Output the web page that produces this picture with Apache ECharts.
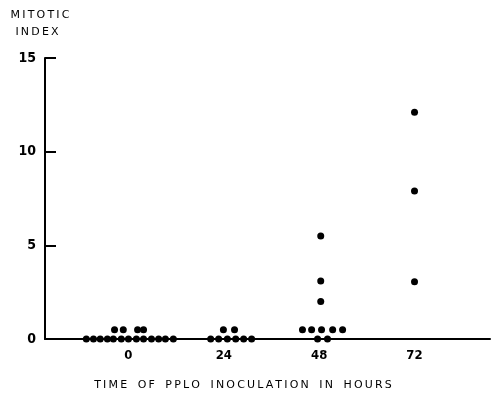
<!DOCTYPE html>
<html>
<head>
<meta charset="utf-8">
<script src="https://cdn.jsdelivr.net/npm/echarts@6/dist/echarts.min.js"></script>
<style>
  html, body { margin: 0; padding: 0; background: #fff; }
  #chart { width: 499px; height: 393px; }
</style>
</head>
<body>
<div id="chart"></div>
<script>
// hours after inoculation (dots spread sideways around each group) and mitotic index
const hourTicks = [0, 24, 48, 72];
const yTicks = [0, 5, 10, 15];

const group0 = [
    [-10.6, 0], [-8.8, 0], [-7.1, 0], [-5.3, 0], [-3.8, 0], [-1.8, 0], [0, 0],
    [2.0, 0], [3.8, 0], [5.8, 0], [7.6, 0], [9.3, 0], [11.3, 0],
    [-3.5, 0.5], [-1.3, 0.5], [2.3, 0.5], [3.8, 0.5]
];
const group24 = [
    [20.7, 0], [22.7, 0], [24.9, 0], [27.0, 0], [29.0, 0], [31.0, 0],
    [23.9, 0.5], [26.7, 0.5]
];
const group48 = [
    [47.6, 0], [50.1, 0],
    [43.8, 0.5], [46.1, 0.5], [48.6, 0.5], [51.4, 0.5], [53.9, 0.5],
    [48.4, 2.0], [48.4, 3.1], [48.4, 5.5]
];
const group72 = [[72, 3.05], [72, 7.9], [72, 12.1]];

const numFont = '"Liberation Sans Narrow", "DejaVu Sans Condensed", sans-serif';
const textFont = '"DejaVu Sans", sans-serif';

// the typewritten labels are letter-spaced, so put thin spaces between letters
function spaced(str) {
    return str.split(' ').map(w => w.split('').join('\u2009')).join('   ');
}

var myChart = echarts.init(document.getElementById('chart'));

var allPoints = [].concat(group0, group24, group48, group72);

var option = {
    animation: false,
    backgroundColor: '#fff',
    graphic: [{
        type: 'text',
        x: 40, y: 10,
        style: { text: spaced('MITOTIC'), fill: '#000', font: '11px ' + textFont, align: 'center' }
    }, {
        type: 'text',
        x: 37, y: 27,
        style: { text: spaced('INDEX'), fill: '#000', font: '11px ' + textFont, align: 'center' }
    }],
    grid: { left: 45, right: 9, top: 58, bottom: 54, outerBoundsMode: 'none' },
    xAxis: {
        type: 'value',
        min: -21,
        max: 91,
        name: spaced('TIME OF PPLO INOCULATION IN HOURS'),
        nameLocation: 'middle',
        nameGap: 41,
        nameTextStyle: { fontFamily: textFont, fontSize: 11, color: '#000', padding: [0, 49, 0, 0] },
        axisLine: { lineStyle: { color: '#000', width: 2 } },
        axisTick: { show: false },
        splitLine: { show: false },
        axisLabel: {
            customValues: hourTicks,
            margin: 10,
            color: '#000',
            fontFamily: numFont,
            fontWeight: 'bold',
            fontSize: 13
        }
    },
    yAxis: {
        type: 'value',
        min: 0,
        max: 15,
        interval: 5,
        axisLine: { show: true, onZero: false, lineStyle: { color: '#000', width: 2 } },
        axisTick: {
            show: true,
            inside: true,
            length: 11,
            customValues: yTicks.slice(1),
            lineStyle: { color: '#000', width: 2 }
        },
        splitLine: { show: false },
        axisLabel: {
            margin: 9,
            color: '#000',
            fontFamily: numFont,
            fontWeight: 'bold',
            fontSize: 14
        }
    },
    series: [{
        type: 'scatter',
        data: allPoints,
        symbol: 'circle',
        symbolSize: 7,
        itemStyle: { color: '#000', opacity: 1 }
    }]
};
myChart.setOption(option);
</script>
</body>
</html>
